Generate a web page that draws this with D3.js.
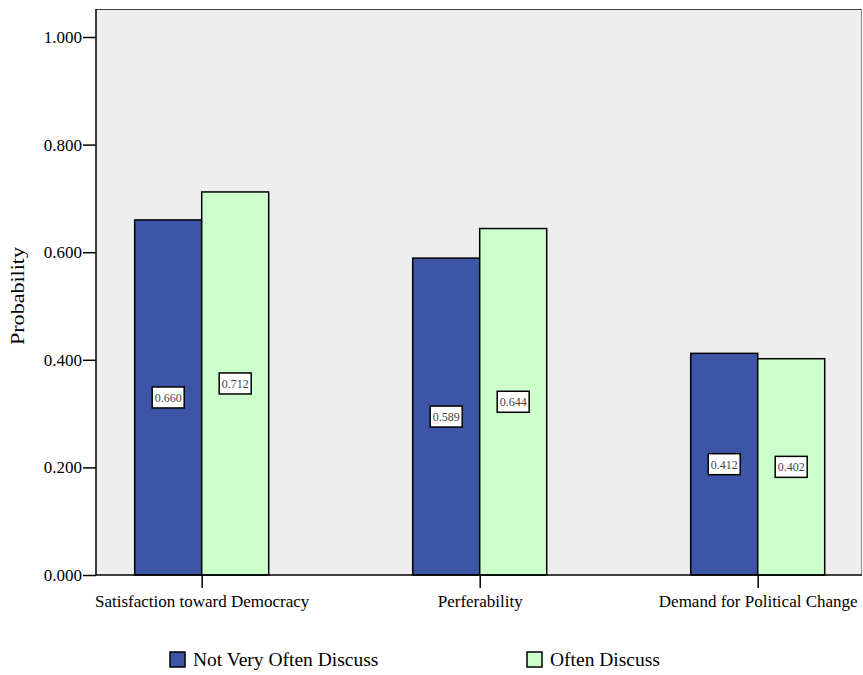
<!DOCTYPE html>
<html><head><meta charset="utf-8">
<script src="https://cdn.jsdelivr.net/npm/d3@7"></script>
<style>body{margin:0;background:#fff}svg{display:block}svg text{font-family:"Liberation Serif","Times New Roman",serif}</style>
</head><body><svg id="c" width="863" height="675"></svg>
<script>
const categories = ["Satisfaction toward Democracy", "Perferability", "Demand for Political Change"];
const seriesNames = ["Not Very Often Discuss", "Often Discuss"];
const notVeryOften = [0.660, 0.589, 0.412];
const often = [0.712, 0.644, 0.402];
const yTicks = [0, 0.2, 0.4, 0.6, 0.8, 1.0];
const colors = ["#3c55a6", "#ccffcc"];

const svg = d3.select("#c");
const L = 96, R = 862, T = 9, B = 575;
const y = d3.scaleLinear().domain([0, 1]).range([B, B - 538]);
const x = d3.scalePoint().domain(categories).range([L + 105.7, R - 104.3]);
const bw = 67;

svg.append("rect").attr("x", L).attr("y", T).attr("width", R - L).attr("height", B - T).attr("fill", "#eeeeee");
svg.append("line").attr("x1", L).attr("x2", R).attr("y1", T + 0.5).attr("y2", T + 0.5).attr("stroke", "#444").attr("stroke-width", 1);
svg.append("line").attr("x1", R - 0.5).attr("x2", R - 0.5).attr("y1", T).attr("y2", B).attr("stroke", "#888").attr("stroke-width", 1);

const series = [notVeryOften, often];
series.forEach((vals, si) => {
  const g = svg.append("g");
  g.selectAll("rect").data(categories).join("rect")
    .attr("x", d => x(d) - bw + si * bw)
    .attr("y", (d, i) => y(vals[i]))
    .attr("width", bw)
    .attr("height", (d, i) => y(0) - y(vals[i]))
    .attr("fill", colors[si]).attr("stroke", "#000").attr("stroke-width", 1.5);
});
series.forEach((vals, si) => {
  categories.forEach((c, i) => {
    const cx = x(c) - bw / 2 + si * bw;
    const cy = (y(vals[i]) + y(0)) / 2;
    const lg = svg.append("g");
    lg.append("rect").attr("x", cx - 16).attr("y", cy - 10.5).attr("width", 32).attr("height", 21)
      .attr("fill", "#fff").attr("stroke", "#000").attr("stroke-width", 1.5);
    lg.append("text").attr("x", cx).attr("y", cy + 4.5).attr("text-anchor", "middle")
      .style("font-size", "13px").attr("fill", "#444")
      .attr("textLength", 27).attr("lengthAdjust", "spacingAndGlyphs")
      .text(d3.format(".3f")(vals[i]));
  });
});

const yAxis = svg.append("g").attr("transform", `translate(${L},0)`)
  .call(d3.axisLeft(y).tickValues(yTicks).tickFormat(d3.format(".3f")).tickSize(13).tickPadding(1));
yAxis.attr("font-family", null).attr("font-size", null);
yAxis.select(".domain").attr("d", `M0,${T}V${B}`).attr("stroke-width", 1.5);
yAxis.selectAll(".tick line").attr("stroke-width", 1.5);
yAxis.selectAll("text").style("font-size", "17px").attr("fill", "#000");

const xAxis = svg.append("g").attr("transform", `translate(0,${B})`)
  .call(d3.axisBottom(x).tickSize(13).tickPadding(7));
xAxis.attr("font-family", null).attr("font-size", null);
xAxis.select(".domain").attr("d", `M${L},0H${R}`).attr("stroke-width", 1.5);
xAxis.selectAll(".tick line").attr("stroke-width", 1.5);
xAxis.selectAll("text").style("font-size", "17px").attr("fill", "#000");

svg.append("text").attr("transform", `translate(24,296) rotate(-90)`)
  .attr("text-anchor", "middle").style("font-size", "19px")
  .attr("textLength", 98).attr("lengthAdjust", "spacingAndGlyphs").text("Probability");

const legX = [170, 527];
seriesNames.forEach((n, i) => {
  svg.append("rect").attr("x", legX[i]).attr("y", 652).attr("width", 15).attr("height", 15)
    .attr("fill", colors[i]).attr("stroke", "#000").attr("stroke-width", 1.5);
  svg.append("text").attr("x", legX[i] + 23).attr("y", 666).style("font-size", "19.5px").text(n);
});
</script></body></html>
